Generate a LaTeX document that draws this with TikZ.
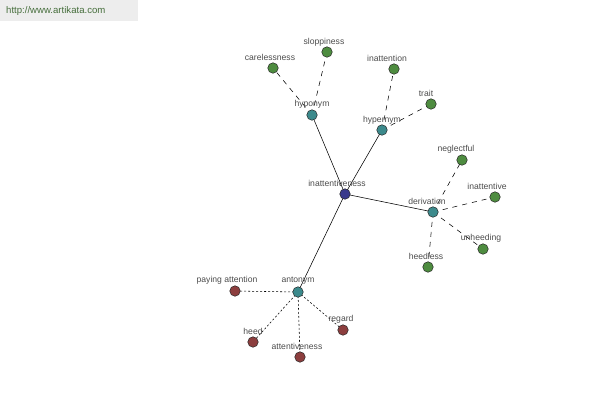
\documentclass[tikz,border=0pt]{standalone}
\usepackage{fontspec}
\setmainfont{Liberation Sans}
\definecolor{gleaf}{RGB}{78,140,64}
\definecolor{rleaf}{RGB}{140,62,62}
\definecolor{thub}{RGB}{60,138,140}
\definecolor{bcent}{RGB}{58,58,140}
\definecolor{urlc}{RGB}{70,110,60}
\begin{document}
\begin{tikzpicture}[x=1pt,y=-1pt,
  dot/.style={circle,draw=black!85,line width=0.5pt,minimum size=10.5pt,inner sep=0pt},
  hubc/.style={dot,fill=thub},
  centc/.style={dot,fill=bcent},
  leafg/.style={dot,fill=gleaf},
  leafr/.style={dot,fill=rleaf},
  lbl/.style={font=\fontsize{8.6}{9}\selectfont,text=black!70,inner sep=0pt},
  solidl/.style={line width=0.55pt,black},
  dashl/.style={line width=0.55pt,black,dash pattern=on 5pt off 5pt},
  dotl/.style={line width=0.55pt,black,dash pattern=on 2pt off 2pt}]
\useasboundingbox (0,0) rectangle (600,400);
\fill[black!7] (0,0) rectangle (138,21);
\node[anchor=west,inner sep=0pt,font=\fontsize{9.6}{10}\selectfont,text=urlc] (url) at (6,11) {http://www.artikata.com};
% coordinates
\coordinate (c0) at (345,194);
\coordinate (c1) at (312,115);
\coordinate (c2) at (382,130);
\coordinate (c3) at (433,212);
\coordinate (c4) at (298,292);
\coordinate (l1) at (273,68);
\coordinate (l2) at (327,52);
\coordinate (l3) at (394,69);
\coordinate (l4) at (431,104);
\coordinate (l5) at (462,160);
\coordinate (l6) at (495,197);
\coordinate (l7) at (483,249);
\coordinate (l8) at (428,267);
\coordinate (l9) at (235,291);
\coordinate (l10) at (253,342);
\coordinate (l11) at (300,357);
\coordinate (l12) at (343,330);
% edges
\draw[solidl] (c0) -- (c1);
\draw[solidl] (c0) -- (c2);
\draw[solidl] (c0) -- (c3);
\draw[solidl] (c0) -- (c4);
\draw[dashl] (c1) -- (l1);
\draw[dashl] (c1) -- (l2);
\draw[dashl] (c2) -- (l3);
\draw[dashl] (c2) -- (l4);
\draw[dashl] (c3) -- (l5);
\draw[dashl] (c3) -- (l6);
\draw[dashl] (c3) -- (l7);
\draw[dashl] (c3) -- (l8);
\draw[dotl] (c4) -- (l9);
\draw[dotl] (c4) -- (l10);
\draw[dotl] (c4) -- (l11);
\draw[dotl] (c4) -- (l12);
% nodes
\node[centc] (inatt) at (c0) {};
\node[hubc] (hypo) at (c1) {};
\node[hubc] (hyper) at (c2) {};
\node[hubc] (deriv) at (c3) {};
\node[hubc] (anto) at (c4) {};
\node[leafg] (care) at (l1) {};
\node[leafg] (slop) at (l2) {};
\node[leafg] (inatn) at (l3) {};
\node[leafg] (trait) at (l4) {};
\node[leafg] (negl) at (l5) {};
\node[leafg] (inattv) at (l6) {};
\node[leafg] (unhe) at (l7) {};
\node[leafg] (heedl) at (l8) {};
\node[leafr] (pay) at (l9) {};
\node[leafr] (heed) at (l10) {};
\node[leafr] (attv) at (l11) {};
\node[leafr] (reg) at (l12) {};
% labels
\node[lbl] (t0) at (337,183) {inattentiveness};
\node[lbl] (t1) at (312,104) {hyponym};
\node[lbl] (t2) at (382,120) {hypernym};
\node[lbl] (t3) at (427,201) {derivation};
\node[lbl] (t4) at (298,281) {antonym};
\node[lbl] (t5) at (270,57) {carelessness};
\node[lbl] (t6) at (324,42) {sloppiness};
\node[lbl] (t7) at (387,58) {inattention};
\node[lbl] (t8) at (426,93) {trait};
\node[lbl] (t9) at (456,149) {neglectful};
\node[lbl] (t10) at (487,186) {inattentive};
\node[lbl] (t11) at (481,238) {unheeding};
\node[lbl] (t12) at (426,256) {heedless};
\node[lbl] (t13) at (227,280) {paying attention};
\node[lbl] (t14) at (253,331) {heed};
\node[lbl] (t15) at (297,346) {attentiveness};
\node[lbl] (t16) at (341,319) {regard};
\end{tikzpicture}
\end{document}
